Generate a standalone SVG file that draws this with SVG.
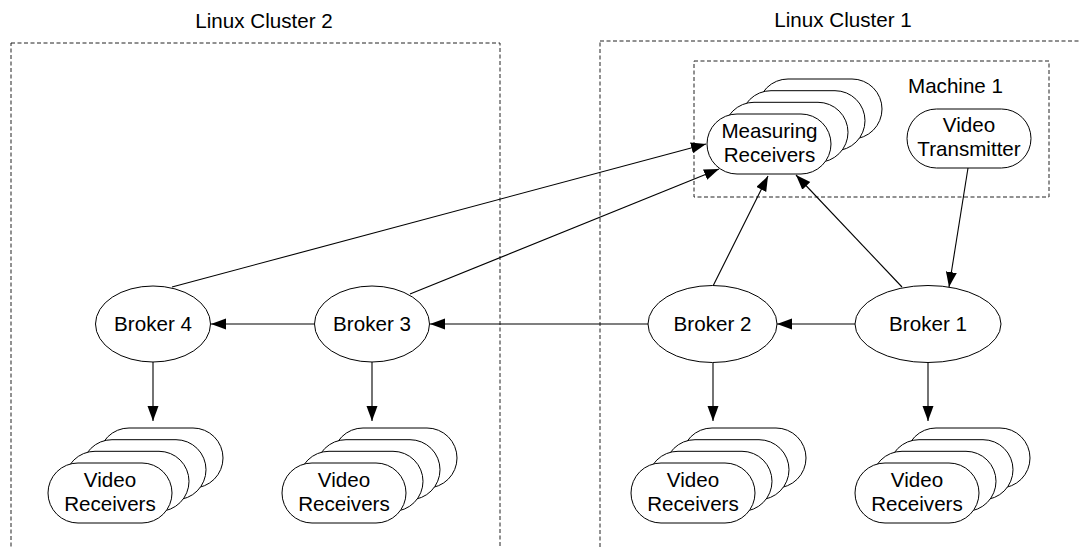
<svg xmlns="http://www.w3.org/2000/svg" width="1080" height="548" viewBox="0 0 1080 548">
<style>
text{font-family:"Liberation Sans",Arial,sans-serif;font-size:20.6px;fill:#000}
.c{text-anchor:middle}
.box{fill:none;stroke:#222;stroke-width:1;stroke-dasharray:4 2.5}
.n{fill:#fff;stroke:#000;stroke-width:1}
.e{fill:none;stroke:#000;stroke-width:1.1;marker-end:url(#ah)}
</style>
<defs>
<marker id="ah" markerUnits="userSpaceOnUse" markerWidth="16" markerHeight="12" refX="15" refY="5.5" orient="auto">
<path d="M0,0 L15,5.5 L0,11 z" fill="#000"/>
</marker>
<g id="stack">
<rect x="51" y="-35" width="124" height="60" rx="30" class="n"/>
<rect x="34" y="-23.3" width="124" height="60" rx="30" class="n"/>
<rect x="17" y="-11.7" width="124" height="60" rx="30" class="n"/>
<rect x="0" y="0" width="124" height="60" rx="30" class="n"/>
</g>
</defs>
<g id="cluster2">
<rect x="11" y="43" width="489" height="520" class="box"/>
<text x="264" y="28" class="c">Linux Cluster 2</text>
</g>
<g id="cluster1">
<rect x="600" y="41" width="500" height="520" class="box"/>
<text x="843" y="27" class="c">Linux Cluster 1</text>
</g>
<g id="machine1">
<rect x="694" y="61" width="355" height="136" class="box"/>
<text x="955.5" y="93" class="c">Machine 1</text>
</g>
<g id="connectors">
<line x1="172" y1="287" x2="706" y2="144" class="e"/>
<line x1="410" y1="294" x2="719" y2="169" class="e"/>
<line x1="713" y1="286" x2="768" y2="176" class="e"/>
<line x1="902" y1="287" x2="796" y2="175" class="e"/>
<line x1="968" y1="168" x2="949" y2="287" class="e"/>
<line x1="855" y1="324" x2="777" y2="324" class="e"/>
<line x1="648" y1="324" x2="430" y2="324" class="e"/>
<line x1="314" y1="324" x2="211" y2="324" class="e"/>
<line x1="153" y1="362" x2="153" y2="421" class="e"/>
<line x1="372" y1="362" x2="372" y2="421" class="e"/>
<line x1="713" y1="363" x2="713" y2="421" class="e"/>
<line x1="928" y1="363" x2="928" y2="421" class="e"/>
</g>
<g id="measuring-receivers">
<use href="#stack" x="707" y="114"/>
<text x="769.5" y="138" class="c">Measuring</text>
<text x="769.5" y="162" class="c">Receivers</text>
</g>
<g id="video-transmitter">
<rect x="907" y="109" width="124" height="59" rx="29.5" class="n"/>
<text x="969" y="132" class="c">Video</text>
<text x="969" y="156" class="c">Transmitter</text>
</g>
<g id="broker4">
<ellipse cx="153" cy="324" rx="57.5" ry="38" class="n"/>
<text x="153" y="331" class="c">Broker 4</text>
</g>
<g id="broker3">
<ellipse cx="372" cy="324" rx="57.5" ry="38" class="n"/>
<text x="372" y="331" class="c">Broker 3</text>
</g>
<g id="broker2">
<ellipse cx="712.5" cy="324" rx="64.5" ry="38.5" class="n"/>
<text x="712.5" y="331" class="c">Broker 2</text>
</g>
<g id="broker1">
<ellipse cx="928" cy="324" rx="73" ry="38.5" class="n"/>
<text x="928" y="331" class="c">Broker 1</text>
</g>
<g id="video-receivers-4">
<use href="#stack" x="48" y="463"/>
<text x="110" y="487" class="c">Video</text>
<text x="110" y="511" class="c">Receivers</text>
</g>
<g id="video-receivers-3">
<use href="#stack" x="282" y="463"/>
<text x="344" y="487" class="c">Video</text>
<text x="344" y="511" class="c">Receivers</text>
</g>
<g id="video-receivers-2">
<use href="#stack" x="631" y="463"/>
<text x="693" y="487" class="c">Video</text>
<text x="693" y="511" class="c">Receivers</text>
</g>
<g id="video-receivers-1">
<use href="#stack" x="855" y="463"/>
<text x="917" y="487" class="c">Video</text>
<text x="917" y="511" class="c">Receivers</text>
</g>
</svg>
